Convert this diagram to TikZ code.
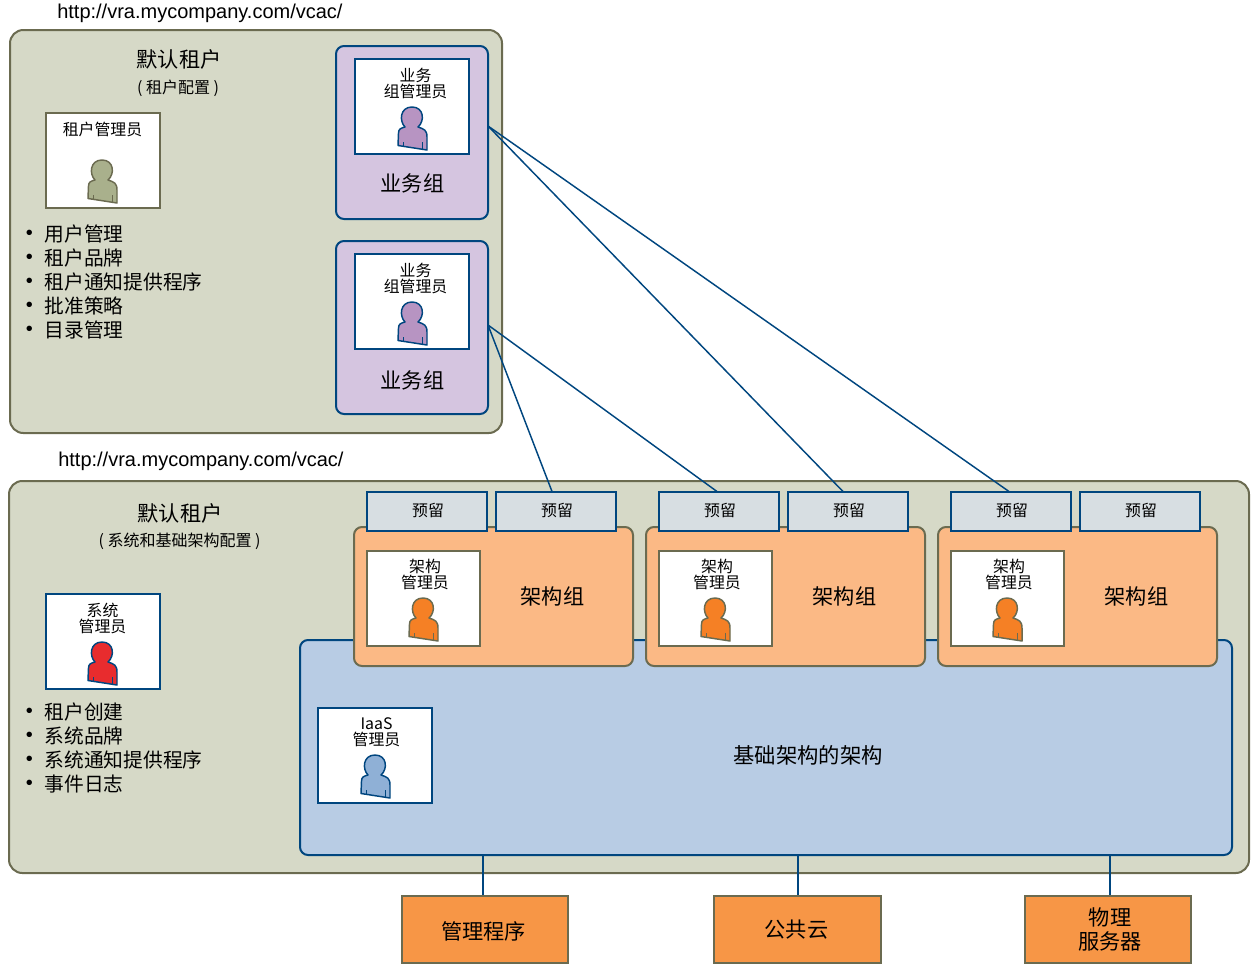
\documentclass[tikz,border=0pt]{standalone}
\usepackage{fontspec}
\setmainfont{Noto Sans CJK SC}
\newfontfamily\urlfont{Liberation Sans}
\usetikzlibrary{calc}
\definecolor{tenantfill}{HTML}{D6D9C7}
\definecolor{olive}{HTML}{6B6B50}
\definecolor{navy}{HTML}{00467F}
\definecolor{bizfill}{HTML}{D5C5E0}
\definecolor{bizp}{HTML}{B794C2}
\definecolor{archfill}{HTML}{FBB985}
\definecolor{archp}{HTML}{F58025}
\definecolor{infrafill}{HTML}{B8CCE4}
\definecolor{infrap}{HTML}{8FB0D6}
\definecolor{resfill}{HTML}{D7DEE2}
\definecolor{hostfill}{HTML}{F79646}
\definecolor{redp}{HTML}{E82C2E}
\definecolor{oliveP}{HTML}{A9B08C}
\tikzset{
  x=0.75pt,y=-0.75pt,
  base/.style={inner sep=0pt,outer sep=0pt,line width=1.5pt},
  tenant/.style={base,draw=olive,fill=tenantfill,rounded corners=10pt},
  bizgroup/.style={base,draw=navy,fill=bizfill,rounded corners=6pt},
  archgroup/.style={base,draw=olive,fill=archfill,rounded corners=6pt},
  infra/.style={base,draw=navy,fill=infrafill,rounded corners=6pt},
  adminblue/.style={base,draw=navy,fill=white},
  adminolive/.style={base,draw=olive,fill=white},
  reservation/.style={base,draw=navy,fill=resfill},
  host/.style={base,draw=olive,fill=hostfill},
  link/.style={draw=navy,line width=1.1pt},
  big/.style={font=\fontsize{15.9pt}{18pt}\selectfont,inner sep=0pt},
  list/.style={font=\fontsize{14.8pt}{18pt}\selectfont,inner sep=0pt,anchor=west},
  bullet/.style={font=\urlfont\fontsize{15pt}{18pt}\selectfont,inner sep=0pt},
  small/.style={font=\fontsize{11.9pt}{12pt}\selectfont,inner sep=0pt,align=center},
  sub/.style={font=\fontsize{12pt}{12pt}\selectfont,inner sep=0pt},
  url/.style={font=\urlfont\fontsize{15pt}{18pt}\selectfont,inner sep=0pt,anchor=west},
  person/.pic={
    \path[pic actions,line width=1.1pt,line join=round]
      (0,38.5) -- (0.5,26) .. controls (0.5,22) and (3,21) .. (7,20)
      .. controls (1,14) and (2,0) .. (14,0)
      .. controls (26,0) and (27,14) .. (20,20)
      .. controls (26,22) and (29,23) .. (29,30) -- (29,43) -- cycle;
    \path[pic actions,fill=none,line width=0.5pt] (5,35) -- (5,39) (24,35) -- (24,41.5);
  }
}
\newcommand{\bx}[6]{\node[#6,minimum width={((#4)-(#2))*0.75pt},minimum height={((#5)-(#3))*0.75pt}] (#1) at ({((#2)+(#4))/2},{((#3)+(#5))/2}) {};}
\begin{document}
\begin{tikzpicture}
\useasboundingbox (0,0) rectangle (1255,964);
% URLs
\node[url] (url1) at (57,13) {http://vra.mycompany.com/vcac/};
\node[url] (url2) at (58,461) {http://vra.mycompany.com/vcac/};
% tenants
\bx{ten1}{10}{30}{502}{433}{tenant}
\bx{ten2}{9}{481}{1249}{873}{tenant}
% top tenant
\node[big] (t1) at (179,59) {默认租户};
\node[sub] (t1s) at (178,88.5) {( 租户配置 )};
\bx{tadmin}{46}{113}{160}{208}{adminolive}
\node[small] (tadmint) at (102.5,129.5) {租户管理员};
\pic[draw=olive,fill=oliveP] at (88,160) {person};
\foreach \n/\y/\t in {a/234/用户管理,b/258/租户品牌,c/282/租户通知提供程序,d/306/批准策略,e/330/目录管理}{
  \node[list] (l\n) at (44.5,\y) {\t};
  \node[bullet] (lb\n) at (29.5,\y+1) {•};
}
% business groups
\bx{biz1}{336}{46}{488}{219}{bizgroup}
\bx{biz1a}{355}{59}{469}{154}{adminblue}
\node[small,align=center] (biz1t) at (415.5,83.5) {业务\\组管理员};
\pic[draw=navy,fill=bizp] at (398,107) {person};
\node[big] (biz1l) at (412.5,183) {业务组};
\bx{biz2}{336}{241}{488}{414}{bizgroup}
\bx{biz2a}{355}{254}{469}{349}{adminblue}
\node[small,align=center] (biz2t) at (415.5,278.5) {业务\\组管理员};
\pic[draw=navy,fill=bizp] at (398,302) {person};
\node[big] (biz2l) at (412.5,380) {业务组};
% lower tenant
\node[big] (t2) at (180,513) {默认租户};
\node[sub] (t2s) at (179.5,541.5) {( 系统和基础架构配置 )};
\bx{sadmin}{46}{594}{160}{689}{adminblue}
\node[small,align=center] (sadmint) at (102.5,618.5) {系统\\管理员};
\pic[draw=navy,fill=redp] at (88,642) {person};
\foreach \n/\y/\t in {a/712/租户创建,b/736/系统品牌,c/760/系统通知提供程序,d/784/事件日志}{
  \node[list] (m\n) at (44.5,\y) {\t};
  \node[bullet] (mb\n) at (29.5,\y+1) {•};
}
% infrastructure
\bx{inf}{300}{640}{1232}{855}{infra}
\bx{iaas}{318}{708}{432}{803}{adminblue}
\node[small,align=center] (iaast) at (376.5,732.5) {IaaS\\管理员};
\pic[draw=navy,fill=infrap] at (361,755) {person};
\node[big,font=\fontsize{16pt}{18pt}\selectfont] (inft) at (808,755.5) {基础架构的架构};
% fabric groups
\foreach \i/\xo in {1/0,2/292,3/584}{
  \bx{arch\i}{354+\xo}{527}{633+\xo}{666}{archgroup}
  \bx{archa\i}{367+\xo}{551}{480+\xo}{646}{adminolive}
  \node[small,align=center] (archt\i) at (425+\xo,574.5) {架构\\管理员};
  \pic[draw=olive,fill=archp] at (409+\xo,598) {person};
  \node[big] (archl\i) at (552.5+\xo,596) {架构组};
  \bx{resa\i}{367+\xo}{492}{487+\xo}{531}{reservation}
  \bx{resb\i}{496+\xo}{492}{616+\xo}{531}{reservation}
  \node[small] (resat\i) at (428+\xo,510.5) {预留};
  \node[small] (resbt\i) at (557+\xo,510.5) {预留};
}
% connectors
\coordinate (p1) at (488,126);
\coordinate (p2) at (488,325);
\coordinate (e1) at (552,491.5);
\coordinate (e2) at (717,491.5);
\coordinate (e3) at (843,491.5);
\coordinate (e4) at (1009,491.5);
\draw[link] (p1) -- (e4);
\draw[link] (p1) -- (e3);
\draw[link] (p2) -- (e2);
\draw[link] (p2) -- (e1);
% hosts
\coordinate (h1) at (483,896);
\coordinate (h2) at (798,896);
\coordinate (h3) at (1110,896);
\draw[link] (h1) -- (h1 |- inf.south);
\draw[link] (h2) -- (h2 |- inf.south);
\draw[link] (h3) -- (h3 |- inf.south);
\bx{host1}{402}{896}{568}{963}{host}
\bx{host2}{714}{896}{881}{963}{host}
\bx{host3}{1025}{896}{1191}{963}{host}
\node[big] (host1t) at (483.5,931) {管理程序};
\node[big] (host2t) at (796.5,930) {公共云};
\node[big,align=center] (host3t) at (1110,929) {物理\\服务器};
\end{tikzpicture}
\end{document}
